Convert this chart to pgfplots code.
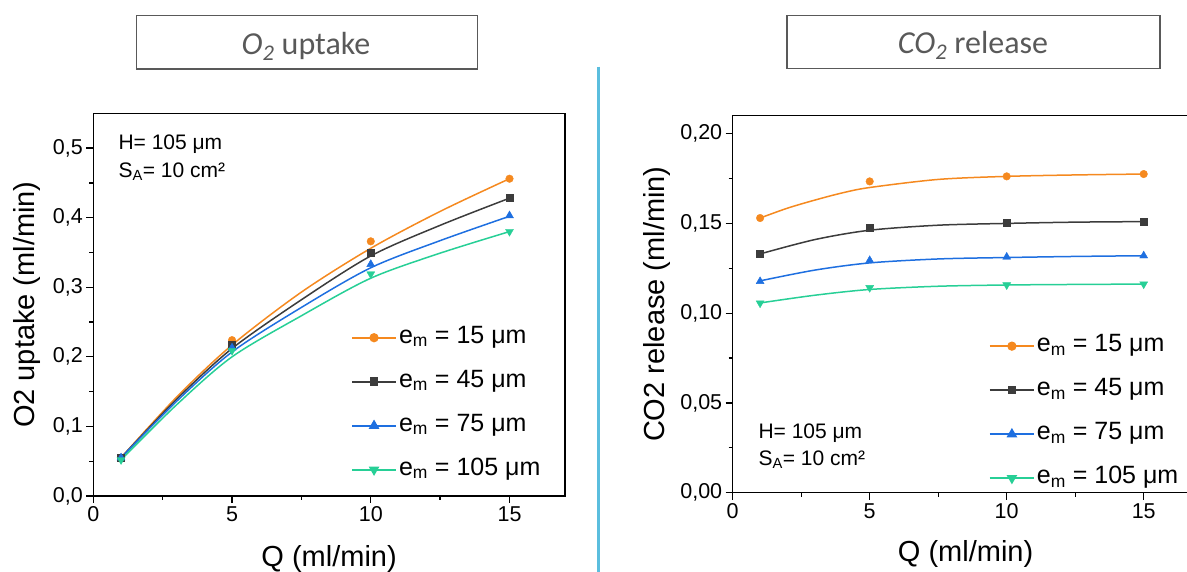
\documentclass[border=0pt]{standalone}
\usepackage{fontspec}
\setmainfont{Liberation Sans}
\newfontfamily\calibri{Carlito}
\usepackage{pgfplots}
\pgfplotsset{compat=1.18}

\definecolor{corange}{RGB}{245,137,31}
\definecolor{cblack}{RGB}{60,60,60}
\definecolor{cblue}{RGB}{30,111,224}
\definecolor{cgreen}{RGB}{39,207,150}
\definecolor{cdiv}{RGB}{91,190,222}
\definecolor{ctitle}{RGB}{89,89,89}

\pgfplotsset{
  panel/.style={
    scale only axis,
    axis line style={line width=1.4pt},
    tick style={line width=1.3pt, black},
    tick align=outside,
    major tick length=7pt,
    minor tick length=4pt,
    tick pos=left,
    xmin=0, xmax=17,
    xtick={0,5,10,15},
    minor x tick num=1,
    minor y tick num=1,
    /pgf/number format/assume math mode=true,
    tick label style={font=\fontsize{21.5}{21.5}\selectfont},
    label style={font=\fontsize{29}{29}\selectfont},
    legend cell align=left,
    legend style={draw=none, fill=none, inner sep=0pt, row sep=15pt,
      font=\fontsize{25}{25}\selectfont,
      nodes={inner sep=2pt, text depth=7pt, text height=18pt}},
    legend image code/.code={
      \draw[line width=2pt] (0pt,0pt) -- (44pt,0pt);
      \draw[line width=1.6pt, mark repeat=2, mark phase=2] plot coordinates {(0pt,0pt)(22pt,0pt)(44pt,0pt)};},
  },
  fit/.style={smooth, no marks, line width=1.5pt, forget plot},
  pts/.style={only marks, forget plot},
  sO/.style={color=corange, mark=*, mark size=3.8pt},
  sB/.style={color=cblack, mark=square*, mark size=3.5pt},
  sL/.style={color=cblue, mark=triangle*, mark size=4.6pt},
  sG/.style={color=cgreen, mark=triangle*, mark size=4.6pt, mark options={rotate=180}},
}

\begin{document}
\begin{tikzpicture}
\path[use as bounding box] (0pt,0pt) rectangle (1187pt,572pt);
\clip (0pt,0pt) rectangle (1187pt,572pt);

% title boxes
\draw[ctitle, line width=1.5pt] (136.7pt,503pt) rectangle (477.7pt,556.7pt);
\node[anchor=base, text=ctitle, font=\calibri\fontsize{32}{32}\selectfont] at (306pt,517.7pt) {{\itshape O\textsubscript{2}} uptake};
\draw[ctitle, line width=1.5pt] (787pt,503.3pt) rectangle (1160pt,556.3pt);
\node[anchor=base, text=ctitle, font=\calibri\fontsize{32}{32}\selectfont] at (973pt,518.7pt) {{\itshape CO\textsubscript{2}} release};

% divider
\draw[cdiv, line width=3pt] (598pt,505.3pt) -- (598pt,0pt);

% ---- O2 uptake ----
\begin{axis}[panel,
  at={(93.3pt,76pt)}, anchor=south west,
  width=471.7pt, height=382.7pt,
  ymin=0, ymax=0.55,
  ytick={0,0.1,0.2,0.3,0.4,0.5},
  y tick label style={/pgf/number format/.cd, fixed, fixed zerofill, precision=1, use comma},
  xlabel={Q (ml/min)},
  ylabel={O2 uptake (ml/min)},
  xlabel style={at={(axis description cs:0.5,-0.185)}, anchor=base},
  ylabel style={at={(axis description cs:-0.1406,0.5)}, anchor=center},
  legend style={at={(0.546,0.452)}, anchor=north west},
]
\addplot[fit, corange] coordinates {(1,0.055) (3,0.142) (5,0.217) (7.5,0.293) (10,0.356) (12.5,0.409) (15,0.456)};
\addplot[fit, cblack] coordinates {(1,0.055) (3,0.139) (5,0.212) (7.5,0.282) (10,0.345) (12.5,0.389) (15,0.428)};
\addplot[fit, cblue] coordinates {(1,0.055) (3,0.136) (5,0.207) (7.5,0.271) (10,0.328) (12.5,0.367) (15,0.402)};
\addplot[fit, cgreen] coordinates {(1,0.052) (3,0.131) (5,0.200) (7.5,0.259) (10,0.313) (12.5,0.349) (15,0.380)};
\addplot[pts, sO] coordinates {(1,0.055) (5,0.224) (10,0.366) (15,0.456)};
\addplot[pts, sB] coordinates {(1,0.055) (5,0.217) (10,0.349) (15,0.428)};
\addplot[pts, sL] coordinates {(1,0.055) (5,0.213) (10,0.333) (15,0.403)};
\addplot[pts, sG] coordinates {(1,0.052) (5,0.209) (10,0.319) (15,0.380)};
\addlegendimage{sO}
\addlegendentry{e\textsubscript{m} = 15 μm}
\addlegendimage{sB}
\addlegendentry{e\textsubscript{m} = 45 μm}
\addlegendimage{sL}
\addlegendentry{e\textsubscript{m} = 75 μm}
\addlegendimage{sG}
\addlegendentry{e\textsubscript{m} = 105 μm}
\end{axis}
\node[anchor=base west, font=\fontsize{21}{21}\selectfont] at (115pt,422pt) {H= 105 μm};
\node[anchor=base west, font=\fontsize{21}{21}\selectfont] at (115pt,394.3pt) {S\textsubscript{A}= 10 cm²};

% ---- CO2 release ----
\begin{axis}[panel,
  at={(732.7pt,79.3pt)}, anchor=south west,
  width=465.8pt, height=377pt,
  ymin=0, ymax=0.21,
  ytick={0,0.05,0.1,0.15,0.2},
  y tick label style={/pgf/number format/.cd, fixed, fixed zerofill, precision=2, use comma},
  xlabel={Q (ml/min)},
  ylabel={CO2 release (ml/min)},
  xlabel style={at={(axis description cs:0.5,-0.183)}, anchor=base},
  ylabel style={at={(axis description cs:-0.1625,0.5)}, anchor=center},
  legend style={at={(0.5496,0.4277)}, anchor=north west},
]
\addplot[fit, corange] coordinates {(1,0.153) (2,0.1585) (3,0.163) (4,0.167) (5,0.170) (7.5,0.1745) (10,0.1762) (12.5,0.177) (15,0.1775)};
\addplot[fit, cblack] coordinates {(1,0.133) (3,0.141) (5,0.1462) (7.5,0.149) (10,0.150) (12.5,0.1507) (15,0.151)};
\addplot[fit, cblue] coordinates {(1,0.118) (3,0.124) (5,0.128) (7.5,0.1302) (10,0.131) (12.5,0.1316) (15,0.132)};
\addplot[fit, cgreen] coordinates {(1,0.1057) (3,0.110) (5,0.1132) (7.5,0.115) (10,0.1157) (12.5,0.116) (15,0.1162)};
\addplot[pts, sO] coordinates {(1,0.153) (5,0.1734) (10,0.1762) (15,0.1775)};
\addplot[pts, sB] coordinates {(1,0.133) (5,0.1478) (10,0.1502) (15,0.1511)};
\addplot[pts, sL] coordinates {(1,0.1177) (5,0.1294) (10,0.1313) (15,0.132)};
\addplot[pts, sG] coordinates {(1,0.1056) (5,0.1142) (10,0.1157) (15,0.1162)};
\addlegendimage{sO}
\addlegendentry{e\textsubscript{m} = 15 μm}
\addlegendimage{sB}
\addlegendentry{e\textsubscript{m} = 45 μm}
\addlegendimage{sL}
\addlegendentry{e\textsubscript{m} = 75 μm}
\addlegendimage{sG}
\addlegendentry{e\textsubscript{m} = 105 μm}
\end{axis}
\node[anchor=base west, font=\fontsize{21}{21}\selectfont] at (755pt,133pt) {H= 105 μm};
\node[anchor=base west, font=\fontsize{21}{21}\selectfont] at (755pt,106.3pt) {S\textsubscript{A}= 10 cm²};
\end{tikzpicture}
\end{document}
